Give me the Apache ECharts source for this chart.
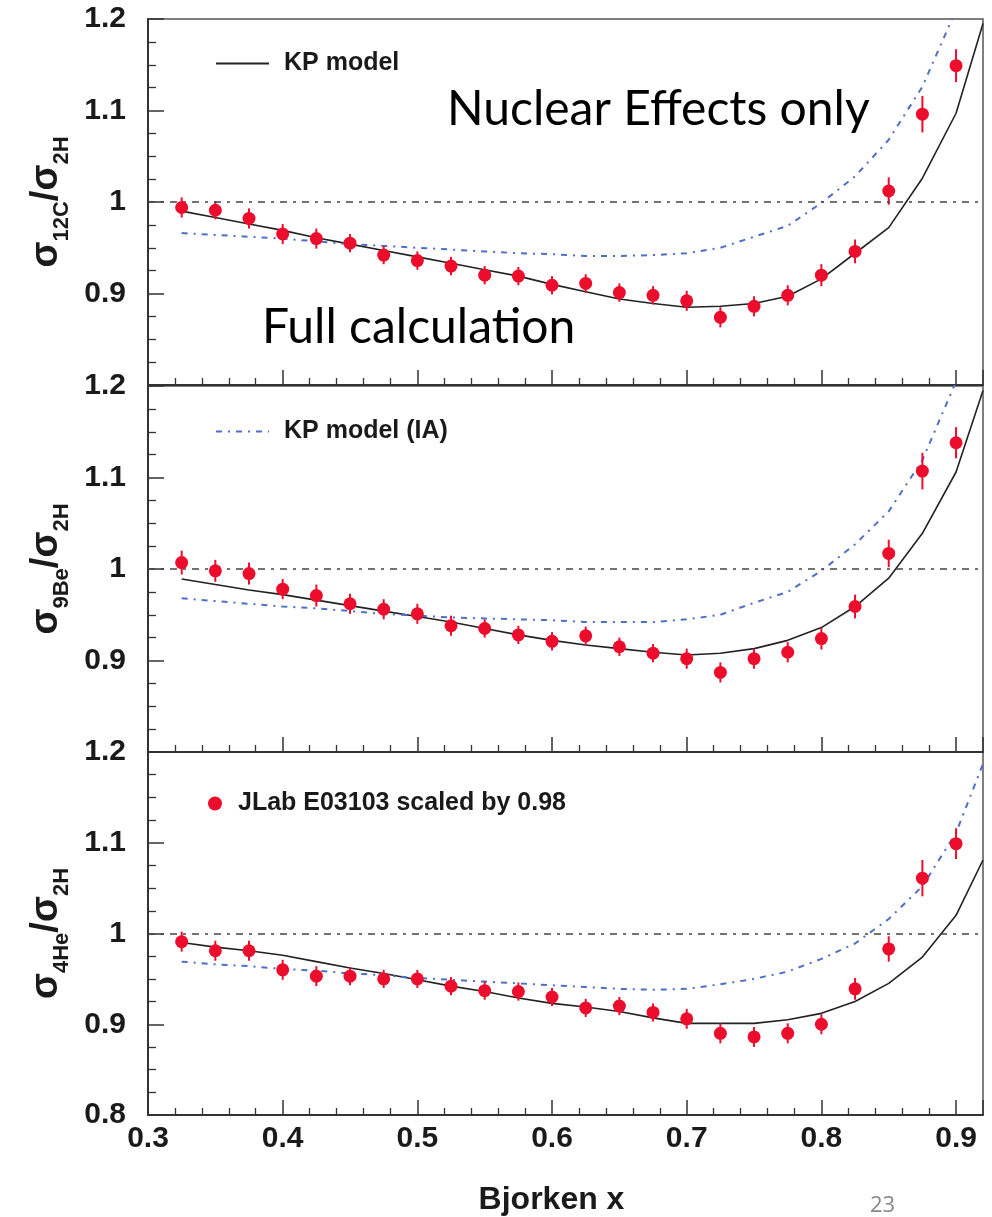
<!DOCTYPE html>
<html>
<head>
<meta charset="utf-8">
<script src="https://cdn.jsdelivr.net/npm/echarts@6/dist/echarts.min.js"></script>
<style>
html, body { margin: 0; padding: 0; background: #fff; }
#main { width: 992px; height: 1217px; }
</style>
</head>
<body>
<div id="main"></div>
<script>
// data points (Bjorken x)
const xPts = [0.325, 0.35, 0.375, 0.4, 0.425, 0.45, 0.475, 0.5, 0.525, 0.55, 0.575, 0.6,
              0.625, 0.65, 0.675, 0.7, 0.725, 0.75, 0.775, 0.8, 0.825, 0.85, 0.875, 0.9];
// model curve nodes
const modelX = [0.325, 0.35, 0.375, 0.4, 0.425, 0.45, 0.475, 0.5, 0.525, 0.55, 0.575, 0.6,
                0.625, 0.65, 0.675, 0.7, 0.725, 0.75, 0.775, 0.8, 0.825, 0.85, 0.875, 0.9, 0.92];

// 12C / 2H
const ratio12C = [0.994, 0.991, 0.982, 0.965, 0.960, 0.955, 0.942, 0.936, 0.930, 0.920, 0.919, 0.909,
                  0.911, 0.901, 0.898, 0.892, 0.874, 0.886, 0.898, 0.920, 0.946, 1.012, 1.096, 1.149];
const err12C = [0.011, 0.010, 0.011, 0.011, 0.011, 0.010, 0.010, 0.010, 0.010, 0.010, 0.010, 0.010,
                0.010, 0.010, 0.010, 0.011, 0.011, 0.011, 0.011, 0.012, 0.013, 0.015, 0.020, 0.018];
const kp12C = [0.990, 0.983, 0.976, 0.969, 0.961, 0.954, 0.947, 0.940, 0.933, 0.926, 0.919, 0.910,
               0.902, 0.894, 0.889, 0.885, 0.886, 0.889, 0.897, 0.916, 0.944, 0.972, 1.026, 1.097, 1.195];
const ia12C = [0.966, 0.964, 0.962, 0.960, 0.957, 0.954, 0.952, 0.950, 0.948, 0.946, 0.944, 0.943,
               0.941, 0.941, 0.942, 0.944, 0.950, 0.962, 0.974, 0.999, 1.028, 1.068, 1.126, 1.210, 1.300];

// 9Be / 2H
const ratio9Be = [1.007, 0.998, 0.995, 0.978, 0.971, 0.962, 0.956, 0.951, 0.938, 0.935, 0.928, 0.921,
                  0.927, 0.915, 0.908, 0.902, 0.887, 0.902, 0.909, 0.924, 0.959, 1.017, 1.107, 1.138];
const err9Be = [0.013, 0.012, 0.012, 0.011, 0.012, 0.011, 0.011, 0.011, 0.011, 0.010, 0.010, 0.010,
                0.010, 0.010, 0.010, 0.011, 0.011, 0.011, 0.011, 0.012, 0.013, 0.015, 0.020, 0.017];
const kp9Be = [0.989, 0.983, 0.977, 0.972, 0.966, 0.960, 0.954, 0.948, 0.942, 0.935, 0.928, 0.922,
               0.917, 0.913, 0.909, 0.906, 0.908, 0.913, 0.922, 0.936, 0.959, 0.990, 1.039, 1.106, 1.195];
const ia9Be = [0.968, 0.965, 0.962, 0.959, 0.957, 0.954, 0.951, 0.949, 0.947, 0.946, 0.945, 0.944,
               0.942, 0.942, 0.942, 0.945, 0.950, 0.963, 0.975, 0.998, 1.027, 1.063, 1.119, 1.205, 1.300];

// 4He / 2H
const ratio4He = [0.991, 0.981, 0.981, 0.960, 0.953, 0.953, 0.950, 0.950, 0.942, 0.937, 0.936, 0.930,
                  0.918, 0.920, 0.913, 0.906, 0.890, 0.886, 0.890, 0.900, 0.939, 0.983, 1.061, 1.099];
const err4He = [0.011, 0.011, 0.011, 0.011, 0.011, 0.010, 0.010, 0.010, 0.010, 0.010, 0.010, 0.010,
                0.010, 0.010, 0.010, 0.011, 0.011, 0.011, 0.011, 0.011, 0.012, 0.014, 0.020, 0.017];
const kp4He = [0.990, 0.985, 0.981, 0.976, 0.969, 0.962, 0.956, 0.949, 0.942, 0.936, 0.929, 0.923,
               0.919, 0.914, 0.907, 0.901, 0.901, 0.901, 0.905, 0.912, 0.925, 0.945, 0.974, 1.020, 1.081];
const ia4He = [0.969, 0.966, 0.964, 0.961, 0.959, 0.956, 0.954, 0.951, 0.949, 0.947, 0.945, 0.943,
               0.941, 0.939, 0.938, 0.939, 0.944, 0.950, 0.958, 0.972, 0.989, 1.016, 1.052, 1.111, 1.187];

const yTicks = [0.8, 0.9, 1, 1.1, 1.2];
const xTicks = [0.3, 0.4, 0.5, 0.6, 0.7, 0.8, 0.9];

const panels = [
    {ratio: ratio12C, err: err12C, kp: kp12C, ia: ia12C, nucl: '12C'},
    {ratio: ratio9Be, err: err9Be, kp: kp9Be, ia: ia9Be, nucl: '9Be'},
    {ratio: ratio4He, err: err4He, kp: kp4He, ia: ia4He, nucl: '4He'}
];

const RED = '#ec0c2c';
const BLUE = '#4f6fc6';
const AXIS = '#333';
const FONT = '"Liberation Sans", Arial, sans-serif';
const tops = [19, 386, 752];

const chart = echarts.init(document.getElementById('main'));

const grids = [], xAxes = [], yAxes = [], series = [];
panels.forEach((p, i) => {
    grids.push({
        left: 148, width: 835, top: tops[i], height: 366,
        show: true, borderColor: '#555', borderWidth: 1.5
    });
    xAxes.push({
        gridIndex: i, type: 'value', min: 0.3, max: 0.92, interval: 0.1,
        axisLine: {lineStyle: {color: AXIS, width: 2}},
        axisTick: {inside: true, length: 15, lineStyle: {color: AXIS, width: 1.5}},
        minorTick: {show: true, splitNumber: 5, length: 7, lineStyle: {color: AXIS, width: 1.3}},
        splitLine: {show: false},
        axisLabel: {
            show: i === 2, margin: 9, color: '#1a1a1a', fontFamily: FONT, fontWeight: 'bold', fontSize: 30,
            formatter: v => (xTicks.some(t => Math.abs(t - v) < 1e-6) ? v.toFixed(1) : '')
        },
        name: i === 2 ? 'Bjorken x' : '',
        nameLocation: 'middle', nameGap: 69,
        nameTextStyle: {color: '#1a1a1a', fontFamily: FONT, fontWeight: 'bold', fontSize: 32, padding: [0, 28, 0, 0]}
    });
    yAxes.push({
        gridIndex: i, type: 'value', min: 0.8, max: 1.2, interval: 0.1,
        axisLine: {lineStyle: {color: AXIS, width: 2}},
        axisTick: {inside: true, length: 16, lineStyle: {color: AXIS, width: 1.5}},
        minorTick: {show: true, splitNumber: 4, length: 8, lineStyle: {color: AXIS, width: 1.3}},
        splitLine: {show: false},
        axisLabel: {
            margin: 22, color: '#1a1a1a', fontFamily: FONT, fontWeight: 'bold', fontSize: 30,
            showMinLabel: i === 2,
            formatter: v => {
                const t = yTicks.find(t => Math.abs(t - v) < 1e-6);
                return t === undefined ? '' : (t === 1 ? '1' : t.toFixed(1));
            }
        },
        name: '{s|σ}{b|' + p.nucl + '}{s|/σ}{b|2H}',
        nameLocation: 'middle', nameRotate: 90, nameGap: 78,
        nameTextStyle: {
            rich: {
                s: {fontFamily: FONT, fontWeight: 'bold', fontSize: 38, lineHeight: 40, verticalAlign: 'top', color: '#1a1a1a'},
                b: {fontFamily: FONT, fontWeight: 'bold', fontSize: 22, lineHeight: 22, padding: [24, 0, 0, 0], verticalAlign: 'top', color: '#1a1a1a'}
            }
        }
    });
    series.push({
        name: 'KP model', type: 'line', xAxisIndex: i, yAxisIndex: i,
        data: modelX.map((x, k) => [x, p.kp[k]]),
        symbol: 'none', lineStyle: {color: '#222', width: 1.6}, itemStyle: {color: '#222'},
        z: 3,
        markLine: {
            silent: true, symbol: 'none', label: {show: false},
            lineStyle: {color: '#444', width: 1.5, type: [7, 6, 3, 6]},
            data: [{yAxis: 1}]
        }
    });
    series.push({
        name: 'KP model (IA)', type: 'line', xAxisIndex: i, yAxisIndex: i,
        data: modelX.map((x, k) => [x, p.ia[k]]),
        symbol: 'none', lineStyle: {color: BLUE, width: 2, type: [6, 6, 2, 6]}, itemStyle: {color: BLUE},
        z: 3
    });
    series.push({
        type: 'custom', xAxisIndex: i, yAxisIndex: i, silent: true, z: 4,
        encode: {x: 0, y: 1},
        data: xPts.map((x, k) => [x, p.ratio[k], p.err[k]]),
        renderItem: (params, api) => {
            const x = api.value(0), y = api.value(1), e = api.value(2);
            const a = api.coord([x, y - e]), b = api.coord([x, y + e]);
            return {type: 'line', shape: {x1: a[0], y1: a[1], x2: b[0], y2: b[1]},
                    style: {stroke: RED, lineWidth: 2}};
        }
    });
    series.push({
        name: 'JLab E03103 scaled by 0.98', type: 'scatter', xAxisIndex: i, yAxisIndex: i,
        data: xPts.map((x, k) => [x, p.ratio[k]]),
        symbol: 'circle', symbolSize: 13, itemStyle: {color: RED, opacity: 1}, z: 5
    });
});

const legendText = {color: '#1a1a1a', fontFamily: FONT, fontWeight: 'bold', fontSize: 25};
const noSymbol = {color: 'rgba(0,0,0,0)', borderWidth: 0};

chart.setOption({
    animation: false,
    backgroundColor: '#fff',
    grid: grids,
    xAxis: xAxes,
    yAxis: yAxes,
    legend: [
        {data: [{name: 'KP model', itemStyle: noSymbol}], left: 215, top: 51, itemWidth: 53, itemHeight: 14, padding: 0,
         textStyle: Object.assign({padding: [0, 0, 0, 10]}, legendText)},
        {data: [{name: 'KP model (IA)', itemStyle: noSymbol}], left: 215, top: 419, itemWidth: 53, itemHeight: 14, padding: 0,
         textStyle: Object.assign({padding: [0, 0, 0, 10]}, legendText)},
        {data: ['JLab E03103 scaled by 0.98'], left: 208, top: 791, itemWidth: 14, itemHeight: 14, padding: 0,
         textStyle: Object.assign({padding: [0, 0, 0, 11]}, legendText)}
    ],
    graphic: [
        {type: 'text', x: 447, y: 110, style: {text: 'Nuclear Effects only', font: '48px Lato', fill: '#000', verticalAlign: 'middle'}},
        {type: 'text', x: 262, y: 328, style: {text: 'Full calculation', font: '48px Lato', fill: '#000', verticalAlign: 'middle'}},
        {type: 'text', x: 870, y: 1206, style: {text: '23', font: '22px "Open Sans"', fill: '#888', verticalAlign: 'middle'}}
    ],
    series: series
});
</script>
</body>
</html>
